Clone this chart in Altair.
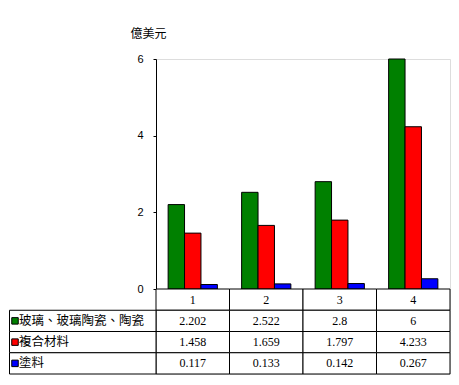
import altair as alt
import pandas as pd

categories = ["1", "2", "3", "4"]
series = ["玻璃、玻璃陶瓷、陶瓷", "複合材料", "塗料"]
glass = [2.202, 2.522, 2.8, 6]
composite = [1.458, 1.659, 1.797, 4.233]
coating = [0.117, 0.133, 0.142, 0.267]
colors = ["#008000", "#FF0000", "#0000FF"]
y_ticks = [0, 2, 4, 6]
unit_title = "億美元"

values_by_series = [glass, composite, coating]
rows = []
for s, vals in zip(series, values_by_series):
    for c, v in zip(categories, vals):
        rows.append({"cat": c, "series": s, "value": v, "label": f"{v:g}"})
df = pd.DataFrame(rows)

HDR = "_hdr"
row_order = [HDR] + series
hdr_df = pd.DataFrame({"cat": categories, "series": [HDR] * len(categories), "label": categories})
cells = pd.concat([hdr_df, df[["cat", "series", "label"]]], ignore_index=True)
labels_df = pd.DataFrame({"series": series})

W = 294
H = 230
TH = 85
LEFT = 147

color_enc = alt.Color("series:N", scale=alt.Scale(domain=series, range=colors), legend=None)

bars = alt.Chart(df).mark_bar(stroke="black", strokeWidth=1).encode(
    x=alt.X("cat:N", sort=categories, axis=None,
            scale=alt.Scale(paddingInner=0.33, paddingOuter=0.165)),
    xOffset=alt.XOffset("series:N", sort=series),
    y=alt.Y("value:Q", scale=alt.Scale(domain=[0, 6], nice=False),
            axis=alt.Axis(values=y_ticks, title=unit_title, titleAngle=0,
                          titleX=-8, titleY=-26, titleAlign="center",
                          titleBaseline="middle", titleFont="Noto Sans CJK TC",
                          titleFontSize=12, titleFontWeight="normal", titleColor="black",
                          labelFont="Liberation Sans", labelFontSize=11, labelColor="black",
                          tickSize=3, labelPadding=10, tickColor="black",
                          domainColor="black", grid=False)),
    color=color_enc,
).properties(width=W, height=H)

x_tab = alt.X("cat:N", sort=categories, axis=None,
              scale=alt.Scale(paddingInner=0, paddingOuter=0))
y_tab = alt.Y("series:N", axis=None,
              scale=alt.Scale(domain=row_order, paddingInner=0, paddingOuter=0))

cell_rect = alt.Chart(cells).mark_rect(fill="white", stroke="black", strokeWidth=1).encode(
    x=x_tab, y=y_tab)
cell_text = alt.Chart(cells).mark_text(font="Liberation Serif", fontSize=12, color="black").encode(
    x=x_tab, y=y_tab, text="label:N")
lab_rect = alt.Chart(labels_df).mark_rect(fill="white", stroke="black", strokeWidth=1).encode(
    x=alt.value(-LEFT + 0.5), x2=alt.value(0), y=y_tab)
lab_sq = alt.Chart(labels_df).mark_square(size=42, stroke="black", strokeWidth=1,
                                         opacity=1, filled=True).encode(
    x=alt.value(-LEFT + 6), y=y_tab, color=color_enc)
lab_text = alt.Chart(labels_df).mark_text(align="left", font="Noto Sans CJK TC",
                                          fontSize=12.5, color="black").encode(
    x=alt.value(-LEFT + 10), y=y_tab, text="series:N")

table = alt.layer(cell_rect, cell_text, lab_rect, lab_sq, lab_text).properties(width=W, height=TH)

chart = alt.vconcat(bars, table, spacing=0, bounds="flush").properties(
    padding={"top": 18, "left": 0, "right": 0, "bottom": 0}
).configure_view(stroke=None).configure(background="white")

chart.save("out.html", embed_options={"renderer": "svg", "actions": False})
